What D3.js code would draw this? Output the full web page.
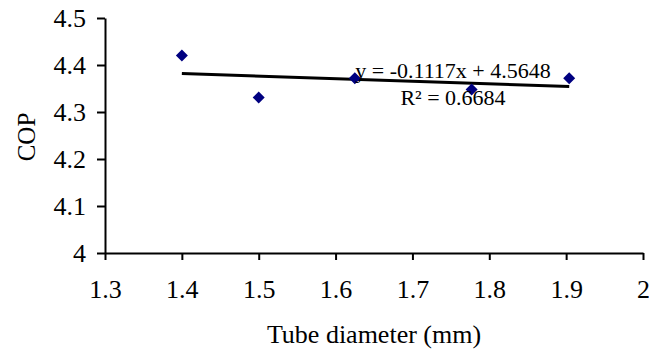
<!DOCTYPE html>
<html>
<head>
<meta charset="utf-8">
<script src="https://cdn.jsdelivr.net/npm/d3@7"></script>
</head>
<body style="margin:0; background:#fff">
<svg id="chart" width="649" height="351"></svg>
<script>
// tube diameter (mm) vs COP
const diameters = [1.4, 1.5, 1.625, 1.777, 1.904];
const cops = [4.42, 4.331, 4.372, 4.348, 4.372];
const xTicks = [1.3, 1.4, 1.5, 1.6, 1.7, 1.8, 1.9, 2];
const yTicks = [4, 4.1, 4.2, 4.3, 4.4, 4.5];
const equationText = 'y = -0.1117x + 4.5648';
const r2Text = 'R\u00B2 = 0.6684';

const serif = "'Liberation Serif'";
const svg = d3.select('#chart');
const plotL = 105, plotR = 643, plotT = 18, plotB = 253;

const x = d3.scaleLinear().domain([1.3, 2]).range([plotL, plotR]);
const y = d3.scaleLinear().domain([4, 4.5]).range([plotB, plotT]);

const xAxis = svg.append('g')
  .attr('transform', `translate(0,${plotB})`)
  .call(d3.axisBottom(x).tickValues(xTicks).tickSize(7).tickSizeOuter(0).tickPadding(20)
    .tickFormat(d3.format('')));
const yAxis = svg.append('g')
  .attr('transform', `translate(${plotL},0)`)
  .call(d3.axisLeft(y).tickValues(yTicks).tickSize(8).tickSizeOuter(0).tickPadding(11)
    .tickFormat(d3.format('')));

[xAxis, yAxis].forEach((g) => {
  g.attr('font-family', serif).attr('font-size', 26);
  g.select('.domain').attr('stroke', '#000').attr('stroke-width', 2);
  g.selectAll('.tick line').attr('stroke', '#000').attr('stroke-width', 2);
  g.selectAll('.tick text')
    .attr('font-family', serif)
    .attr('font-size', 26)
    .attr('fill', '#000');
});
xAxis.selectAll('.tick text').attr('dy', '0.71em');

// least squares trend line over the data
const mx = d3.mean(diameters), my = d3.mean(cops);
let sxy = 0, sxx = 0;
diameters.forEach((d, i) => {
  sxy += (d - mx) * (cops[i] - my);
  sxx += (d - mx) * (d - mx);
});
const slope = sxy / sxx;
const icpt = my - slope * mx;
const xExt = d3.extent(diameters);

svg.append('line')
  .attr('x1', x(xExt[0])).attr('y1', y(slope * xExt[0] + icpt))
  .attr('x2', x(xExt[1])).attr('y2', y(slope * xExt[1] + icpt))
  .attr('stroke', '#000').attr('stroke-width', 3);

const diamond = d3.symbol(d3.symbolSquare, 72);
svg.selectAll('path.pt')
  .data(diameters)
  .enter().append('path')
  .attr('class', 'pt')
  .attr('d', diamond)
  .attr('transform', (d, i) => `translate(${x(d)},${y(cops[i])}) rotate(45)`)
  .attr('fill', '#000080');

function label(txt, size) {
  return svg.append('text')
    .attr('font-family', serif)
    .attr('font-size', size)
    .attr('fill', '#000')
    .attr('text-anchor', 'middle')
    .text(txt);
}

label(equationText, 22).attr('x', 453).attr('y', 78);
label(r2Text, 22).attr('x', 453).attr('y', 105);
label('COP', 25).attr('transform', 'translate(35,137) rotate(-90)');
label('Tube diameter (mm)', 26).attr('x', (plotL + plotR) / 2).attr('y', 343);
</script>
</body>
</html>
